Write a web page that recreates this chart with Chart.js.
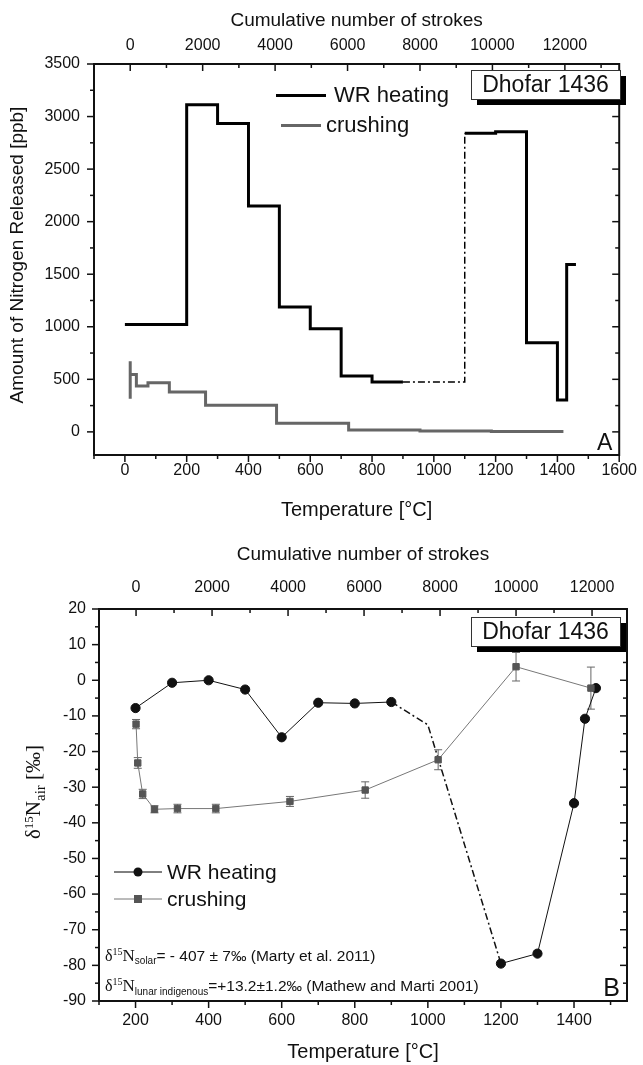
<!DOCTYPE html>
<html>
<head>
<meta charset="utf-8">
<script src="https://cdn.jsdelivr.net/npm/chart.js@4.4.1/dist/chart.umd.min.js"></script>
<style>
html, body { margin: 0; padding: 0; background: #fff; }
#wrap { position: relative; width: 643px; height: 1065px; }
canvas { position: absolute; left: 0; }
#chartA { top: 0; }
#chartB { top: 530px; }
</style>
</head>
<body>
<div id="wrap">
  <canvas id="chartA" width="643" height="530"></canvas>
  <canvas id="chartB" width="643" height="535"></canvas>
</div>
<script>
// ---- 上段 (A): 窒素放出量 ----
const wrStepTemp = [0, 200, 300, 400, 500, 600, 700, 800, 900, 1100, 1200, 1300, 1400, 1430, 1460];
const wrStepAmount = [1022, 3113, 2934, 2148, 1187, 981, 532, 475, 475, 2840, 2855, 848, 304, 1592, 1592];
const crushStepStrokes = [0, 0, 0, 170, 490, 1080, 2080, 4040, 6030, 8000, 9970, 11960];
const crushStepAmount = [673, 316, 547, 436, 468, 380, 253, 82, 19, 9.5, 3, 3];
const tempTicksA = [0, 200, 400, 600, 800, 1000, 1200, 1400, 1600];
const strokeTicks = [0, 2000, 4000, 6000, 8000, 10000, 12000];
const amountTicks = [0, 500, 1000, 1500, 2000, 2500, 3000, 3500];

// ---- 下段 (B): δ15N ----
const wrTemp = [200, 300, 400, 500, 600, 700, 800, 900, 1000, 1200, 1300, 1400, 1430, 1460];
const wrDelta = [-7.8, -0.7, 0, -2.6, -16, -6.3, -6.5, -6.1, -12.5, -79.5, -76.7, -34.5, -10.8, -2.2];
const crushStrokes = [0, 45, 175, 485, 1090, 2100, 4050, 6030, 7950, 10000, 11970];
const crushDelta = [-12.3, -23.2, -31.9, -36.2, -36, -36, -34, -30.8, -22.3, 3.8, -2.2];
const crushErr = [1.3, 1.5, 1.3, 1, 1.2, 1.2, 1.4, 2.3, 2.8, 4, 5.9];
const tempTicksB = [200, 400, 600, 800, 1000, 1200, 1400];
const deltaTicks = [20, 10, 0, -10, -20, -30, -40, -50, -60, -70, -80, -90];

const seriesNames = ['WR heating', 'crushing'];
const sampleName = 'Dhofar 1436';

Chart.defaults.font.family = '"Liberation Sans", Arial, sans-serif';
Chart.defaults.color = '#111';

// 主目盛の中間に副目盛
function minorOf(ticks) {
    const step = Math.abs(ticks[1] - ticks[0]);
    const lo = Math.min(...ticks), hi = Math.max(...ticks);
    const out = [];
    for (let v = lo - step / 2; v <= hi + step / 2; v += step) out.push(v);
    return out;
}

// 軸の共通設定
function axis(pos, min, max, values, size, pad) {
    return {
        type: 'linear', position: pos, min: min, max: max,
        afterBuildTicks: scale => { scale.ticks = values.map(v => ({ value: v })); },
        afterFit: scale => {
            if (scale.isHorizontal()) scale.height = size; else scale.width = size;
        },
        grid: { display: false, drawTicks: false },
        border: { display: false },
        ticks: { padding: pad, font: { size: 16 }, color: '#111', callback: v => v, maxRotation: 0, autoSkip: false }
    };
}

// 枠と目盛線 (左・下は外向き、上・右は内向き)
const frameTicks = {
    id: 'frameTicks',
    afterDatasetsDraw(chart, args, opts) {
        const ctx = chart.ctx, a = chart.chartArea;
        ctx.save();
        ctx.strokeStyle = '#111';
        ctx.lineWidth = 1.5;
        opts.axes.forEach(ax => {
            const scale = chart.scales[ax.id];
            const draw = (v, len) => {
                if (v < scale.min || v > scale.max) return;
                const p = scale.getPixelForValue(v);
                ctx.beginPath();
                if (ax.side === 'bottom') { ctx.moveTo(p, a.bottom); ctx.lineTo(p, a.bottom + len); }
                if (ax.side === 'top') { ctx.moveTo(p, a.top); ctx.lineTo(p, a.top + len); }
                if (ax.side === 'left') { ctx.moveTo(a.left, p); ctx.lineTo(a.left - len, p); }
                if (ax.side === 'right') { ctx.moveTo(a.right, p); ctx.lineTo(a.right - len, p); }
                ctx.stroke();
            };
            ax.major.forEach(v => draw(v, 7));
            minorOf(ax.major).forEach(v => draw(v, 4));
        });
        ctx.lineWidth = 2;
        ctx.strokeRect(a.left, a.top, a.right - a.left, a.bottom - a.top);
        ctx.restore();
    }
};

function drawRich(ctx, x, y, parts) {
    parts.forEach(p => {
        ctx.font = p.font;
        ctx.fillText(p.text, x, y + (p.dy || 0));
        x += ctx.measureText(p.text).width;
    });
    return x;
}

function richWidth(ctx, parts) {
    let w = 0;
    parts.forEach(p => { ctx.font = p.font; w += ctx.measureText(p.text).width; });
    return w;
}

function drawSampleBox(ctx, x, y) {
    const w = 149, h = 29;
    ctx.fillStyle = '#000';
    ctx.fillRect(x + 6, y + 6, w, h);
    ctx.fillStyle = '#fff';
    ctx.fillRect(x, y, w, h);
    ctx.strokeStyle = '#333';
    ctx.lineWidth = 1;
    ctx.strokeRect(x + 0.5, y + 0.5, w, h);
    ctx.fillStyle = '#111';
    ctx.font = '23px "Liberation Sans", Arial';
    ctx.textAlign = 'center';
    ctx.textBaseline = 'middle';
    ctx.fillText(sampleName, x + w / 2, y + h / 2 + 1);
}

// ---- 上段の装飾 ----
const decorA = {
    id: 'decorA',
    afterDraw(chart) {
        const ctx = chart.ctx, a = chart.chartArea;
        const cx = (a.left + a.right) / 2;
        ctx.save();
        ctx.fillStyle = '#111';
        ctx.textAlign = 'center';
        ctx.textBaseline = 'middle';
        ctx.font = '19px "Liberation Sans", Arial';
        ctx.fillText('Cumulative number of strokes', cx, 21);
        ctx.font = '20px "Liberation Sans", Arial';
        ctx.fillText('Temperature [°C]', cx, 510);
        ctx.save();
        ctx.translate(18, 255);
        ctx.rotate(-Math.PI / 2);
        ctx.font = '19px "Liberation Sans", Arial';
        ctx.fillText('Amount of Nitrogen Released [ppb]', 0, 0);
        ctx.restore();

        // 凡例
        ctx.lineWidth = 3;
        ctx.strokeStyle = '#000';
        ctx.beginPath(); ctx.moveTo(276, 95.5); ctx.lineTo(326, 95.5); ctx.stroke();
        ctx.strokeStyle = '#666';
        ctx.beginPath(); ctx.moveTo(281, 125.5); ctx.lineTo(321, 125.5); ctx.stroke();
        ctx.textAlign = 'left';
        ctx.font = '22px "Liberation Sans", Arial';
        ctx.fillText(seriesNames[0], 334, 96);
        ctx.fillText(seriesNames[1], 326, 126);

        ctx.font = '23px "Liberation Sans", Arial';
        ctx.textBaseline = 'alphabetic';
        ctx.fillText('A', 597, 450);

        drawSampleBox(ctx, 471, 70);
        ctx.restore();
    }
};

// ---- 下段の装飾 ----
const decorB = {
    id: 'decorB',
    beforeDatasetsDraw(chart) {
        // エラーバー
        const ctx = chart.ctx;
        const meta = chart.getDatasetMeta(0);
        const y = chart.scales.y;
        ctx.save();
        ctx.strokeStyle = '#666';
        ctx.lineWidth = 1;
        meta.data.forEach((pt, i) => {
            const top = y.getPixelForValue(crushDelta[i] + crushErr[i]);
            const bot = y.getPixelForValue(crushDelta[i] - crushErr[i]);
            ctx.beginPath();
            ctx.moveTo(pt.x, top); ctx.lineTo(pt.x, bot);
            ctx.moveTo(pt.x - 4, top); ctx.lineTo(pt.x + 4, top);
            ctx.moveTo(pt.x - 4, bot); ctx.lineTo(pt.x + 4, bot);
            ctx.stroke();
        });
        ctx.restore();
    },
    afterDraw(chart) {
        const ctx = chart.ctx, a = chart.chartArea;
        const cx = (a.left + a.right) / 2;
        ctx.save();
        ctx.fillStyle = '#111';
        ctx.textAlign = 'center';
        ctx.textBaseline = 'middle';
        ctx.font = '19px "Liberation Sans", Arial';
        ctx.fillText('Cumulative number of strokes', cx, 25);
        ctx.font = '20px "Liberation Sans", Arial';
        ctx.fillText('Temperature [°C]', cx, 522);

        // 縦軸タイトル δ15Nair [‰]
        const serif = '"Liberation Serif", "Times New Roman", serif';
        const yTitle = [
            { text: 'δ', font: '21px ' + serif },
            { text: '15', font: '13px ' + serif, dy: -7 },
            { text: 'N', font: '21px ' + serif },
            { text: 'air', font: '15px ' + serif, dy: 5 },
            { text: ' [‰]', font: '21px ' + serif }
        ];
        ctx.save();
        ctx.translate(33, 262);
        ctx.rotate(-Math.PI / 2);
        ctx.textAlign = 'left';
        ctx.textBaseline = 'alphabetic';
        drawRich(ctx, -richWidth(ctx, yTitle) / 2, 7, yTitle);
        ctx.restore();

        // 凡例
        ctx.lineWidth = 1;
        ctx.strokeStyle = '#000';
        ctx.beginPath(); ctx.moveTo(114, 342); ctx.lineTo(162, 342); ctx.stroke();
        ctx.fillStyle = '#111';
        ctx.beginPath(); ctx.arc(138, 342, 4.5, 0, Math.PI * 2); ctx.fill();
        ctx.strokeStyle = '#777';
        ctx.beginPath(); ctx.moveTo(114, 369); ctx.lineTo(162, 369); ctx.stroke();
        ctx.fillStyle = '#555';
        ctx.fillRect(134, 365, 8, 8);
        ctx.fillStyle = '#111';
        ctx.textAlign = 'left';
        ctx.font = '21px "Liberation Sans", Arial';
        ctx.fillText(seriesNames[0], 167, 343);
        ctx.fillText(seriesNames[1], 167, 370);

        // 注記
        ctx.textBaseline = 'alphabetic';
        const sans = '"Liberation Sans", Arial, sans-serif';
        drawRich(ctx, 105, 431, [
            { text: 'δ', font: '16px ' + serif },
            { text: '15', font: '10px ' + serif, dy: -6 },
            { text: 'N', font: '17px ' + serif },
            { text: 'solar', font: '10px ' + sans, dy: 3 },
            { text: '= - 407 ± 7‰ (Marty et al. 2011)', font: '15.5px ' + sans }
        ]);
        drawRich(ctx, 105, 461, [
            { text: 'δ', font: '16px ' + serif },
            { text: '15', font: '10px ' + serif, dy: -6 },
            { text: 'N', font: '17px ' + serif },
            { text: 'lunar indigenous', font: '10px ' + sans, dy: 4 },
            { text: '=+13.2±1.2‰ (Mathew and Marti 2001)', font: '15.5px ' + sans }
        ]);
        ctx.font = '25px ' + sans;
        ctx.textAlign = 'right';
        ctx.fillText('B', 620, 466);

        drawSampleBox(ctx, 471, 87);
        ctx.restore();
    }
};

const commonOpts = {
    responsive: false,
    animation: false,
    devicePixelRatio: 1,
    events: [],
    plugins: { legend: { display: false }, tooltip: { enabled: false } }
};

// 上段チャート
new Chart(document.getElementById('chartA').getContext('2d'), {
    type: 'line',
    data: {
        datasets: [
            {
                label: seriesNames[1],
                xAxisID: 'x2',
                data: crushStepStrokes.map((s, i) => ({ x: s, y: crushStepAmount[i] })),
                stepped: 'before',
                borderColor: '#666',
                borderWidth: 3,
                pointRadius: 0
            },
            {
                label: seriesNames[0],
                xAxisID: 'x',
                data: wrStepTemp.map((t, i) => ({ x: t, y: wrStepAmount[i] })),
                stepped: 'before',
                borderColor: '#000',
                borderWidth: 3,
                pointRadius: 0,
                segment: { borderDash: c => c.p0.parsed.x === 900 ? [7, 3, 2, 3] : undefined, borderWidth: c => c.p0.parsed.x === 900 ? 1.5 : undefined }
            }
        ]
    },
    options: Object.assign({}, commonOpts, {
        layout: { padding: { left: 0, right: 21, top: 0, bottom: 0 } },
        scales: {
            x: axis('bottom', -100, 1600, tempTicksA, 75, 6),
            x2: axis('top', -1000, 13500, strokeTicks, 64, 9),
            y: axis('left', -220, 3500, amountTicks, 94, 14)
        },
        plugins: Object.assign({}, commonOpts.plugins, {
            frameTicks: { axes: [
                { id: 'x', side: 'bottom', major: tempTicksA },
                { id: 'x2', side: 'top', major: strokeTicks },
                { id: 'y', side: 'left', major: amountTicks },
                { id: 'y', side: 'right', major: amountTicks }
            ] }
        })
    }),
    plugins: [frameTicks, decorA]
});

// 下段チャート
new Chart(document.getElementById('chartB').getContext('2d'), {
    type: 'line',
    data: {
        datasets: [
            {
                label: seriesNames[1],
                xAxisID: 'x2',
                data: crushStrokes.map((s, i) => ({ x: s, y: crushDelta[i] })),
                borderColor: '#777',
                borderWidth: 1,
                pointStyle: 'rect',
                pointRadius: 4.5,
                pointBackgroundColor: '#555',
                pointBorderColor: '#555',
                pointBorderWidth: 1
            },
            {
                label: seriesNames[0],
                xAxisID: 'x',
                data: wrTemp.map((t, i) => ({ x: t, y: wrDelta[i] })),
                borderColor: '#111',
                borderWidth: 1,
                pointRadius: wrTemp.map(t => t === 1000 ? 0 : 4.6),
                pointBackgroundColor: '#111',
                pointBorderColor: '#111',
                segment: { borderDash: c => (c.p0.parsed.x >= 900 && c.p1.parsed.x <= 1200) ? [7, 3, 2, 3] : undefined, borderWidth: c => (c.p0.parsed.x >= 900 && c.p1.parsed.x <= 1200) ? 1.5 : undefined }
            }
        ]
    },
    options: Object.assign({}, commonOpts, {
        layout: { padding: { left: 0, right: 16, top: 0, bottom: 0 } },
        scales: {
            x: axis('bottom', 100, 1545, tempTicksB, 64, 10),
            x2: axis('top', -975, 12920, strokeTicks, 79, 12),
            y: axis('left', -90, 20, deltaTicks, 99, 13)
        },
        plugins: Object.assign({}, commonOpts.plugins, {
            frameTicks: { axes: [
                { id: 'x', side: 'bottom', major: tempTicksB },
                { id: 'x2', side: 'top', major: strokeTicks },
                { id: 'y', side: 'left', major: deltaTicks },
                { id: 'y', side: 'right', major: deltaTicks }
            ] }
        })
    }),
    plugins: [frameTicks, decorB]
});
</script>
</body>
</html>
